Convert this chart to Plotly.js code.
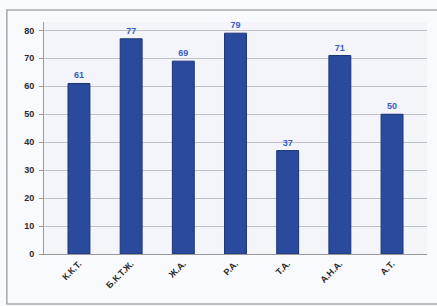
<!DOCTYPE html>
<html>
<head>
<meta charset="utf-8">
<script src="https://cdn.plot.ly/plotly-3.0.1.min.js"></script>
<style>html,body{margin:0;padding:0;background:#fff;}#chart{width:437px;height:306px;}</style>
</head>
<body>
<div id="chart"></div>
<script>
var categories = ["К.К.Т.", "Б.К.Т.Ж.", "Ж.А.", "Р.А.", "Т.А.", "А.Н.А.", "А.Т."];
var values = [61, 77, 69, 79, 37, 71, 50];
var yTicks = [0, 10, 20, 30, 40, 50, 60, 70, 80];

var trace = {
  type: 'bar',
  x: categories,
  y: values,
  width: 0.42,
  marker: {color: '#2a4a9e', line: {color: '#1c3475', width: 1}},
  text: values.map(String),
  textposition: 'outside',
  textfont: {family: 'Liberation Sans, Arial, sans-serif', size: 9, color: '#3a5cc8', weight: 'bold'},
  cliponaxis: false,
  hoverinfo: 'none'
};

var layout = {
  width: 437, height: 306,
  margin: {l: 44, r: 10, t: 22, b: 52},
  paper_bgcolor: '#f9fafd',
  plot_bgcolor: '#f3f5fa',
  showlegend: false,
  bargap: 0.58,
  xaxis: {
    type: 'category',
    range: [-0.67, 6.67],
    tickangle: -45,
    tickfont: {family: 'Liberation Sans, Arial, sans-serif', size: 9, color: '#2a2a2a', weight: 'bold'},
    showgrid: false,
    showline: true, linecolor: '#9a9a9a', linewidth: 1,
    ticks: '', zeroline: false
  },
  yaxis: {
    range: [0, 83],
    tickvals: yTicks,
    ticktext: yTicks.map(String),
    tickfont: {family: 'Liberation Sans, Arial, sans-serif', size: 9, color: '#2a2a2a', weight: 'bold'},
    showgrid: true, gridcolor: '#bfc1c8', gridwidth: 1,
    showline: true, linecolor: '#9a9a9a', linewidth: 1,
    ticks: 'outside', ticklen: 4, tickcolor: '#9a9a9a',
    zeroline: false, ticklabelstandoff: 3
  },
  shapes: [
    {type: 'rect', xref: 'paper', yref: 'paper', x0: -0.097, x1: 1.2, y0: -0.215, y1: 1.052,
     line: {color: '#a8a8a8', width: 1.5}, fillcolor: 'rgba(0,0,0,0)', layer: 'below'}
  ]
};

Plotly.newPlot('chart', [trace], layout, {staticPlot: true, displayModeBar: false});
</script>
</body>
</html>
